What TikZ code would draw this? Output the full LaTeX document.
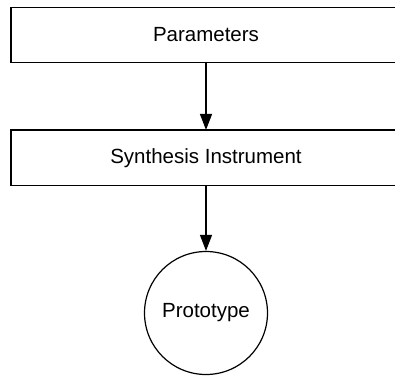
\documentclass[tikz,border=0pt]{standalone}
\usepackage{fontspec}
\setmainfont{Liberation Sans}
\usetikzlibrary{arrows.meta}
\begin{document}
\begin{tikzpicture}[x=1pt,y=-1pt,
  every node/.style={font=\fontsize{20.5}{24}\selectfont},
  block/.style={draw,line width=1.2pt,minimum width=409pt,minimum height=55.5pt,
    inner sep=0pt,outer sep=0pt,anchor=west},
  disc/.style={draw,circle,line width=1.2pt,minimum size=123pt,inner sep=0pt},
  flow/.style={line width=1.2pt,-{Triangle[length=16pt,width=12pt]}}]
  \useasboundingbox (0,0) rectangle (395,378);
  \begin{scope}
    \clip (0,0) rectangle (395,378);
    % the two blocks run on past the right border of the page
    \node[block] (pbox) at (11,35) {};
    \node (params) at (206,35) {Parameters};
    \node[block] (sbox) at (11,157.7) {};
    \node (synth) at (206,157.7) {Synthesis Instrument};
    \node[disc] (proto) at (206,313) {Prototype};
    \draw[flow] (pbox.south -| proto.north) -- (sbox.north -| proto.north);
    \draw[flow] (sbox.south -| proto.north) -- (proto);
  \end{scope}
\end{tikzpicture}
\end{document}
